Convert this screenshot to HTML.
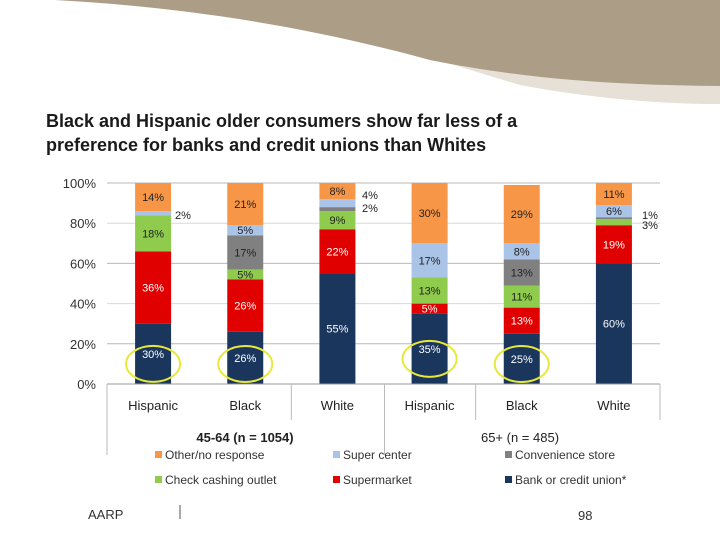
<!DOCTYPE html>
<html><head><meta charset="utf-8"><style>
body{margin:0;background:#fff;}
svg{display:block;font-family:"Liberation Sans",Arial,sans-serif;}
</style></head><body>
<svg id="c" width="720" height="540" xmlns="http://www.w3.org/2000/svg">
<path d="M200,0 C330,25 420,55 520,85 C600,100 670,104 720,104 L720,0 Z" fill="#e6e0d6"/>
<path d="M55,0 C200,8 320,30 430,60 C530,80 620,85 720,86 L720,0 Z" fill="#ac9d86"/>
<text x="46" y="127" font-size="18" font-weight="bold" fill="#1a1a1a">Black and Hispanic older consumers show far less of a</text>
<text x="46" y="151" font-size="18" font-weight="bold" fill="#1a1a1a">preference for banks and credit unions than Whites</text>
<g id="grid"></g>
<g id="bars"></g>
<g id="axes"></g>
<text x="245" y="442" font-size="13" font-weight="bold" text-anchor="middle" fill="#222">45-64 (n = 1054)</text>
<text x="520" y="442" font-size="13" text-anchor="middle" fill="#222">65+ (n = 485)</text>
<g id="legend"></g>
<text x="88" y="519" font-size="13" fill="#333">AARP</text>
<line x1="180" y1="505" x2="180" y2="519" stroke="#555" stroke-width="1"/>
<text x="578" y="520" font-size="13" fill="#333">98</text>
</svg>
<script>
const categories=["Hispanic","Black","White","Hispanic","Black","White"];
const bank=[30,26,55,35,25,60];
const supermarket=[36,26,22,5,13,19];
const checkCashing=[18,5,9,13,11,3];
const convenience=[0,17,2,0,13,1];
const superCenter=[2,5,4,17,8,6];
const other=[14,21,8,30,29,11];
const yTicks=[0,20,40,60,80,100];
const seriesNames=["Bank or credit union*","Supermarket","Check cashing outlet","Convenience store","Super center","Other/no response"];
const NS="http://www.w3.org/2000/svg";
const series=[bank,supermarket,checkCashing,convenience,superCenter,other];
const colors=["#1b365d","#e00000","#8fcb4c","#808080","#a9c4e6","#f79646"];
const textCols=["#fff","#fff","#222","#222","#222","#222"];
const x0=107,x1=660,y0=384,y1=183;
const yS=v=>y0-(v/100)*(y0-y1);
const band=(x1-x0)/categories.length;
const xC=i=>x0+band*(i+0.5);
const bw=36;
function mk(t,a,p){const e=document.createElementNS(NS,t);for(const k in a)e.setAttribute(k,a[k]);p.appendChild(e);return e;}
const grid=document.getElementById('grid'),bars=document.getElementById('bars'),axes=document.getElementById('axes'),leg=document.getElementById('legend');
yTicks.forEach(t=>{
 const l=mk('line',{x1:x0,x2:x1,y1:yS(t),y2:yS(t),stroke:t%40==0&&t>0?'#d8d8d8':'#b8b8b8','stroke-width':1},grid);
 
 
 const tx=mk('text',{x:96,y:yS(t)+5,'font-size':13,'text-anchor':'end',fill:'#333'},axes);
 tx.textContent=t+'%';
 
 
});
categories.forEach((c,i)=>{
 let cum=0;
 series.forEach((s,k)=>{
  const v=s[i];if(v<=0)return;
  const r=mk('rect',{x:xC(i)-bw/2,y:yS(cum+v),width:bw,height:yS(cum)-yS(cum+v),fill:colors[k]},bars);
  
  
  if(v>=5){
   const t=mk('text',{x:xC(i),y:yS(cum+v/2)+4,'font-size':11,'text-anchor':'middle',fill:textCols[k]},bars);
   t.textContent=v+'%';
   
   
  }
  cum+=v;
 });
});
const outs=[[0,4,175,219],[2,4,362,199],[2,3,362,212],[5,3,642,219],[5,2,642,229]];
outs.forEach(o=>{
 const t=mk('text',{x:o[2],y:o[3],'font-size':11,fill:'#222'},bars);
 t.textContent=series[o[1]][o[0]]+'%';
 
 
});
[0,1,3,4].forEach(i=>{
 const e=mk('ellipse',{cx:xC(i),cy:yS(bank[i]/2)+10>y0-20?y0-20:yS(bank[i]/2)+10,rx:27,ry:18,fill:'none',stroke:'#e8e83a','stroke-width':2},bars);
 
 
});
mk('line',{x1:x0,x2:x1,y1:y0,y2:y0,stroke:'#999'},axes);
[[x0,455],[x0+band*2,420],[x0+band*3+1,455],[x0+band*4,420],[x1,420]].forEach(p=>{
 const l=mk('line',{x1:p[0],x2:p[0],y1:y0,y2:p[1],stroke:'#bbb'},axes);
 
 
});
categories.forEach((c,i)=>{
 const t=mk('text',{x:xC(i),y:410,'font-size':13,'text-anchor':'middle',fill:'#222'},axes);
 t.textContent=c;
 
 
});
const legOrder=[[5,155,457],[4,333,457],[3,505,457],[2,155,482],[1,333,482],[0,505,482]];
legOrder.forEach(o=>{
 const r=mk('rect',{x:o[1],y:o[2]-6,width:7,height:7,fill:colors[o[0]]},leg);
 
 
 const t=mk('text',{x:o[1]+10,y:o[2]+2,'font-size':12,fill:'#333'},leg);
 t.textContent=seriesNames[o[0]];
 
 
});
</script>
</body></html>
